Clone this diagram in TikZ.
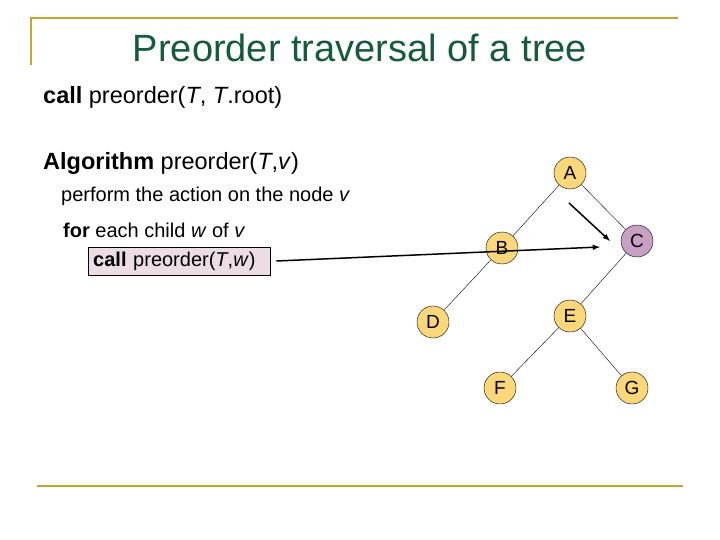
\documentclass[tikz,border=0pt]{standalone}
\usepackage{fontspec}
\setmainfont{Liberation Sans}
\definecolor{gold}{RGB}{200,165,40}
\definecolor{ttl}{RGB}{20,90,60}
\definecolor{yel}{RGB}{250,215,120}
\definecolor{pur}{RGB}{200,160,195}
\definecolor{boxc}{RGB}{235,220,230}
\begin{document}
\begin{tikzpicture}[x=1pt,y=-1pt,
 tn/.style={circle,draw,fill=yel,minimum size=32pt,inner sep=0pt,font=\fontsize{19}{19}\selectfont},
 ed/.style={thin}]
\useasboundingbox (0,0) rectangle (720,540);
\draw[gold,line width=2pt] (30,18) -- (678,18);
\draw[gold,line width=2pt] (31,18) -- (31,65);
\draw[gold,line width=2pt] (37,486) -- (683,486);
\node[ttl,font=\fontsize{38}{38}\selectfont] (title) at (360,48) {Preorder traversal of a tree};
\node[anchor=west,inner sep=0pt,font=\fontsize{23.5}{23.5}\selectfont] (c1) at (43,97) {\textbf{call} preorder(\textit{T}, \textit{T}.root)};
\node[anchor=west,inner sep=0pt,font=\fontsize{23.5}{23.5}\selectfont] (alg) at (43,163) {\textbf{Algorithm} preorder(\textit{T},\textit{v})};
\node[anchor=west,inner sep=0pt,font=\fontsize{20}{20}\selectfont] (perf) at (61,196) {perform the action on the node \textit{v}};
\node[anchor=west,inner sep=0pt,font=\fontsize{20}{20}\selectfont] (for) at (63,230) {\textbf{for} each child \textit{w} of \textit{v}};
\node[anchor=west,draw,fill=boxc,text width=172pt,minimum height=28pt,inner xsep=5pt,inner ysep=2pt,font=\fontsize{20}{20}\selectfont] (box) at (88,261) {\textbf{call} preorder(\textit{T},\textit{w})};
\node[tn] (A) at (570,173) {A};
\node[tn] (B) at (502,248) {B};
\node[tn,fill=pur] (C) at (637,241) {C};
\node[tn] (D) at (433,322) {D};
\node[tn] (E) at (570,316) {E};
\node[tn] (F) at (500,388) {F};
\node[tn] (G) at (632,388) {G};
\draw[ed] (A)--(B) (A)--(C) (B)--(D) (C)--(E) (E)--(F) (E)--(G);
\coordinate (t1) at (600,247);
\coordinate (s2) at (569,203);
\coordinate (t2) at (610,241);
\draw[line width=1.5pt,-latex] (box.east) ++(6,0) -- (t1);
\draw[line width=1.5pt,-latex] (s2) -- (t2);
\end{tikzpicture}
\end{document}
